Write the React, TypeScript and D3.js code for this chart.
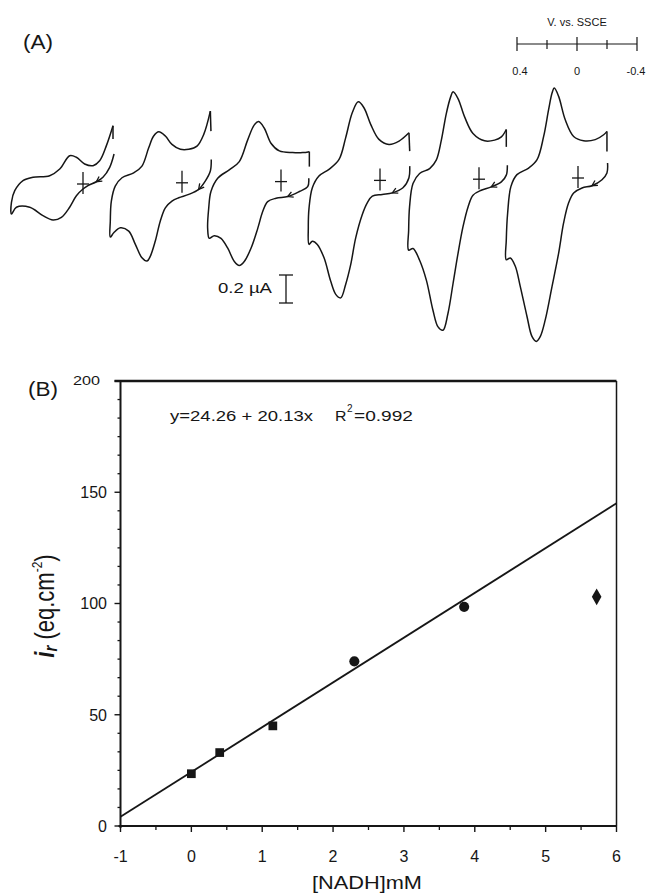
import React from 'react';
import * as d3 from 'd3';

const W = 646, H = 895;
const FONT = '"Liberation Sans", Arial, sans-serif';
const INK = '#161616';

// panel (A): cyclic voltammograms, points are [E (V vs SSCE), i (uA)]
// scan starts at the right end, runs along the lower branch, turns at the left end
// and comes back along the upper branch; last point is the short vertical tail
const cv1 = [
  [-0.207, 0.214], [-0.178, 0.119], [-0.133, 0.048], [-0.089, 0.016], [-0.033, -0.012], [0, -0.036],
  [0.044, -0.084], [0.089, -0.166], [0.144, -0.238], [0.2, -0.257], [0.267, -0.226], [0.355, -0.166],
  [0.444, -0.166], [0.477, -0.214],
  [0.477, -0.131], [0.455, -0.048], [0.4, 0.024], [0.333, 0.048], [0.222, 0.059], [0.155, 0.107],
  [0.089, 0.202], [0.044, 0.191], [-0.011, 0.143], [-0.067, 0.131], [-0.111, 0.166], [-0.156, 0.274],
  [-0.2, 0.416], [-0.2, 0.321],
];
const cv2 = [
  [-0.195, 0.167], [-0.189, 0.084], [-0.155, 0.012], [-0.111, -0.047], [-0.045, -0.083], [0.022, -0.107],
  [0.067, -0.131], [0.111, -0.179], [0.145, -0.274], [0.178, -0.416], [0.211, -0.524], [0.233, -0.559],
  [0.267, -0.536], [0.311, -0.44], [0.355, -0.345], [0.411, -0.321], [0.455, -0.357], [0.478, -0.388],
  [0.478, -0.274], [0.471, -0.131], [0.445, -0.024], [0.4, 0.036], [0.322, 0.071], [0.267, 0.119],
  [0.222, 0.25], [0.189, 0.334], [0.155, 0.364], [0.111, 0.334], [0.067, 0.274], [0.011, 0.239],
  [-0.045, 0.239], [-0.1, 0.262], [-0.145, 0.346], [-0.189, 0.512], [-0.193, 0.369],
];
const cv3 = [
  [-0.185, 0.024], [-0.178, -0.036], [-0.122, -0.071], [-0.045, -0.107], [0.033, -0.119], [0.089, -0.143],
  [0.122, -0.214], [0.155, -0.334], [0.2, -0.476], [0.245, -0.571], [0.278, -0.6], [0.311, -0.571],
  [0.355, -0.476], [0.4, -0.405], [0.445, -0.386], [0.478, -0.405],
  [0.489, -0.334], [0.482, -0.191], [0.467, -0.071], [0.422, 0.024], [0.345, 0.084], [0.278, 0.143],
  [0.222, 0.298], [0.178, 0.405], [0.149, 0.429], [0.111, 0.381], [0.067, 0.274], [0.011, 0.219],
  [-0.078, 0.207], [-0.145, 0.207], [-0.189, 0.214], [-0.189, 0.107],
];
const cv4 = [
  [-0.198, 0.102], [-0.193, 0.019], [-0.153, -0.053], [-0.082, -0.089], [-0.015, -0.1], [0.051, -0.112],
  [0.085, -0.16], [0.118, -0.243], [0.162, -0.41], [0.195, -0.6], [0.229, -0.743], [0.262, -0.839],
  [0.295, -0.814], [0.329, -0.719], [0.373, -0.553], [0.418, -0.457], [0.451, -0.434], [0.473, -0.457],
  [0.478, -0.339], [0.473, -0.196], [0.451, -0.053], [0.407, 0.031], [0.34, 0.079], [0.273, 0.15],
  [0.229, 0.304], [0.185, 0.483], [0.145, 0.561], [0.107, 0.519], [0.062, 0.4], [0.007, 0.293],
  [-0.06, 0.257], [-0.127, 0.281], [-0.193, 0.34], [-0.198, 0.209],
];
const cv5 = [
  [-0.189, 0.1], [-0.182, 0.029], [-0.149, -0.019], [-0.082, -0.055], [-0.015, -0.079], [0.04, -0.114],
  [0.073, -0.198], [0.107, -0.341], [0.14, -0.531], [0.173, -0.745], [0.207, -0.959], [0.24, -1.079],
  [0.273, -1.055], [0.307, -0.936], [0.351, -0.721], [0.396, -0.579], [0.44, -0.495], [0.469, -0.507],
  [0.469, -0.364], [0.463, -0.198], [0.44, -0.031], [0.396, 0.041], [0.329, 0.076], [0.285, 0.136],
  [0.251, 0.279], [0.218, 0.469], [0.189, 0.588], [0.173, 0.624], [0.14, 0.576], [0.096, 0.445],
  [0.04, 0.326], [-0.037, 0.274], [-0.104, 0.279], [-0.149, 0.302], [-0.182, 0.355], [-0.182, 0.231],
];
const cv6 = [
  [-0.197, 0.107], [-0.193, 0.036], [-0.16, -0.012], [-0.093, -0.055], [-0.027, -0.071], [0.029, -0.107],
  [0.063, -0.179], [0.096, -0.321], [0.129, -0.536], [0.173, -0.774], [0.218, -1.012], [0.251, -1.131],
  [0.278, -1.167], [0.307, -1.131], [0.34, -0.989], [0.385, -0.774], [0.418, -0.631], [0.451, -0.571],
  [0.478, -0.584],
  [0.478, -0.441], [0.469, -0.25], [0.447, -0.06], [0.407, 0.024], [0.329, 0.071], [0.273, 0.131],
  [0.229, 0.297], [0.196, 0.488], [0.173, 0.607], [0.158, 0.643], [0.129, 0.583], [0.085, 0.416],
  [0.029, 0.297], [-0.037, 0.266], [-0.115, 0.274], [-0.171, 0.309], [-0.193, 0.333], [-0.193, 0.19],
];
const voltammograms = [cv1, cv2, cv3, cv4, cv5, cv6];

const potentialTicks = [0.4, 0.2, 0, -0.2, -0.4];
const potentialLabels = [0.4, 0, -0.4];
const currentBar = 0.2; // uA

// panel (B)
const nadh = [0, 0.4, 1.15, 2.3, 3.85, 5.72];
const ir = [23.5, 33, 45, 74, 98.5, 103];
const markerKinds = ['square', 'square', 'square', 'circle', 'circle', 'diamond'];
const fitIntercept = 24.26;
const fitSlope = 20.13;
const xTicks = [-1, 0, 1, 2, 3, 4, 5, 6];
const yTicks = [0, 50, 100, 150, 200];

function Arrow ({ pts, ex, iy }) {
  // small open arrowhead on the lower branch, pointing along the scan
  const a = pts[2], b = pts[3];
  const x0 = ex(a[0]), y0 = iy(a[1]), x1 = ex(b[0]), y1 = iy(b[1]);
  const ang = Math.atan2(y1 - y0, x1 - x0);
  const len = 6;
  const wing = (s) => [x1 - len * Math.cos(ang + s), y1 - len * Math.sin(ang + s)];
  const w1 = wing(0.5), w2 = wing(-0.5);
  return (
    <path d={`M${w1[0]},${w1[1]}L${x1},${y1}L${w2[0]},${w2[1]}`} fill="none" stroke={INK} strokeWidth={1.3} />
  );
}

function PanelA () {
  const ex = d3.scaleLinear().domain([0, -1]).range([0, 150]);
  const iy = d3.scaleLinear().domain([0, 1]).range([0, -140]);
  const cvX = d3.scalePoint().domain(d3.range(voltammograms.length)).range([83, 578]);
  const cvY = d3.scaleLinear().domain([0, voltammograms.length - 1]).range([184, 178]);
  const smooth = d3.line().x(d => ex(d[0])).y(d => iy(d[1])).curve(d3.curveCatmullRom.alpha(0.5));
  const straight = d3.line().x(d => ex(d[0])).y(d => iy(d[1]));

  const eBar = d3.scaleLinear().domain([0.4, -0.4]).range([517, 637]);
  const barY = 44;
  const cur = d3.scaleLinear().domain([0, currentBar]).range([303, 275]);

  return (
    <g>
      <text x={23} y={49} fontSize={20} textLength={30} lengthAdjust="spacingAndGlyphs" fill={INK}>(A)</text>

      {voltammograms.map((pts, k) => (
        <g key={k} transform={`translate(${cvX(k)},${cvY(k)})`}>
          <path d={smooth(pts.slice(0, -1))} fill="none" stroke={INK} strokeWidth={1.5} strokeLinejoin="round" />
          <path d={straight(pts.slice(-2))} fill="none" stroke={INK} strokeWidth={1.5} />
          <line x1={0} x2={0} y1={-12} y2={10} stroke={INK} strokeWidth={1.3} />
          <line x1={-6} x2={6} y1={0} y2={0} stroke={INK} strokeWidth={1.3} />
          <Arrow pts={pts} ex={ex} iy={iy} />
        </g>
      ))}

      {/* potential scale */}
      <text x={577} y={26} fontSize={11} textAnchor="middle" fill={INK}>V. vs. SSCE</text>
      <line x1={eBar(0.4)} x2={eBar(-0.4)} y1={barY} y2={barY} stroke={INK} strokeWidth={1.2} />
      {potentialTicks.map(t => {
        const big = t === 0 || Math.abs(t) === 0.4;
        return <line key={t} x1={eBar(t)} x2={eBar(t)} y1={barY - (big ? 7 : 4)} y2={barY + (big ? 7 : 5)}
          stroke={INK} strokeWidth={1.2} />;
      })}
      {potentialLabels.map(t => (
        <text key={t} x={eBar(t) + (t > 0 ? 3 : t < 0 ? -1 : 0)} y={75} fontSize={11} textAnchor="middle" fill={INK}>
          {t === 0 ? '0' : String(t)}
        </text>
      ))}

      {/* current scale */}
      <text x={218} y={293} fontSize={15} textLength={54} lengthAdjust="spacingAndGlyphs" fill={INK}>0.2 µA</text>
      <line x1={286} x2={286} y1={cur(0)} y2={cur(currentBar)} stroke={INK} strokeWidth={1.3} />
      <line x1={279} x2={293} y1={cur(0)} y2={cur(0)} stroke={INK} strokeWidth={1.3} />
      <line x1={279} x2={293} y1={cur(currentBar)} y2={cur(currentBar)} stroke={INK} strokeWidth={1.3} />
    </g>
  );
}

function PanelB () {
  const x = d3.scaleLinear().domain([-1, 6]).range([120.5, 616.5]);
  const y = d3.scaleLinear().domain([0, 200]).range([826, 381]);
  const [x0, x1] = x.range();
  const [y0, y1] = y.range();
  const fit = d3.line().x(d => x(d)).y(d => y(fitIntercept + fitSlope * d));
  const minorY = d3.range(0, 200, 50 / 6).filter(v => Math.abs(v % 50) > 0.01);
  const minorX = d3.range(-0.5, 6, 1);
  const symbols = {
    square: d3.symbol().type(d3.symbolSquare).size(76)(),
    circle: d3.symbol().type(d3.symbolCircle).size(80)(),
    diamond: d3.symbol().type(d3.symbolDiamond).size(80)(),
  };

  return (
    <g>
      <text x={28} y={396} fontSize={20} textLength={30} lengthAdjust="spacingAndGlyphs" fill={INK}>(B)</text>

      {/* frame */}
      <line x1={x0 - 6} x2={x1} y1={y1} y2={y1} stroke={INK} strokeWidth={2.6} />
      <line x1={x1} x2={x1} y1={y1} y2={y0} stroke={INK} strokeWidth={1.5} />
      <line x1={x0} x2={x0} y1={y1} y2={y0 + 2} stroke={INK} strokeWidth={2} />
      <line x1={x0 - 2} x2={x1} y1={y0} y2={y0} stroke={INK} strokeWidth={2} />

      {/* y ticks */}
      {yTicks.map(t => (
        <g key={t}>
          <line x1={x0 - 6} x2={x0} y1={y(t)} y2={y(t)} stroke={INK} strokeWidth={1.4} />
          {t === 200
            ? <text x={100} y={y(t)} dy="0.35em" fontSize={12} textAnchor="end" textLength={27}
                lengthAdjust="spacingAndGlyphs" fill={INK}>{t}</text>
            : <text x={107} y={y(t)} dy="0.36em" fontSize={16} textAnchor="end" fill={INK}>{t}</text>}
        </g>
      ))}
      {minorY.map(t => (
        <line key={t} x1={x0 - 3} x2={x0} y1={y(t)} y2={y(t)} stroke={INK} strokeWidth={1.3} />
      ))}

      {/* x ticks */}
      {xTicks.map(t => (
        <g key={t}>
          <line x1={x(t)} x2={x(t)} y1={y0} y2={y0 + 6} stroke={INK} strokeWidth={1.4} />
          <text x={x(t)} y={862} fontSize={16} textAnchor="middle" fill={INK}>{t}</text>
        </g>
      ))}
      {minorX.map(t => (
        <line key={t} x1={x(t)} x2={x(t)} y1={y0} y2={y0 + 4} stroke={INK} strokeWidth={1.3} />
      ))}

      {/* fit + data */}
      <path d={fit([-1, 6])} fill="none" stroke={INK} strokeWidth={1.8} />
      {nadh.map((c, k) => (
        <path key={k} d={symbols[markerKinds[k]]} transform={`translate(${x(c)},${y(ir[k])})`} fill={INK} />
      ))}

      {/* equation */}
      <text x={170} y={421} fontSize={14} textLength={143} lengthAdjust="spacingAndGlyphs" fill={INK}>
        y=24.26 + 20.13x
      </text>
      <text x={335} y={421} fontSize={14} textLength={11.5} lengthAdjust="spacingAndGlyphs" fill={INK}>R</text>
      <text x={347} y={412} fontSize={10} fill={INK}>2</text>
      <text x={354} y={421} fontSize={14} textLength={59} lengthAdjust="spacingAndGlyphs" fill={INK}>=0.992</text>

      {/* axis titles */}
      <g transform="translate(44,606) scale(1.25,1) rotate(-90)">
        <text x={0} y={0} dy="0.35em" fontSize={22} textAnchor="middle" fill={INK}>
          <tspan fontWeight="bold" fontStyle="italic">i</tspan>
          <tspan fontWeight="bold" fontStyle="italic" fontSize={15} dy={3}>r</tspan>
          <tspan dy={-3}> (eq.cm</tspan>
          <tspan fontSize={12} dy={-9}>-2</tspan>
          <tspan dy={9}>)</tspan>
        </text>
      </g>
      <text x={312} y={889} fontSize={18} textLength={110} lengthAdjust="spacingAndGlyphs" fill={INK}>[NADH]mM</text>
    </g>
  );
}

export default function App () {
  return (
    <svg width={W} height={H} viewBox={`0 0 ${W} ${H}`}
      style={{ position: 'absolute', left: 0, top: 0, background: '#fff' }}
      fontFamily={FONT}>
      <rect width={W} height={H} fill="#fff" />
      <PanelA />
      <PanelB />
    </svg>
  );
}
